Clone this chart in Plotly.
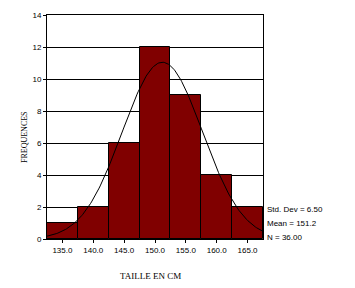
import numpy as np
import plotly.graph_objects as go

bin_centers = [135, 140, 145, 150, 155, 160, 165]
counts = [1, 2, 6, 12, 9, 4, 2]
bin_width = 5
std_dev = 6.50
mean = 151.2
n_total = 36.00
x_ticks = [135, 140, 145, 150, 155, 160, 165]
x_tick_labels = ["135.0", "140.0", "145.0", "150.0", "155.0", "160.0", "165.0"]
y_ticks = [0, 2, 4, 6, 8, 10, 12, 14]

xs = np.linspace(132.5, 167.5, 200)
ys = n_total * bin_width / (std_dev * np.sqrt(2 * np.pi)) * np.exp(-0.5 * ((xs - mean) / std_dev) ** 2)

fig = go.Figure()
fig.add_trace(go.Bar(x=bin_centers, y=counts, width=bin_width,
                     marker=dict(color="#800000", line=dict(color="black", width=1)),
                     hoverinfo="skip"))
fig.add_trace(go.Scatter(x=xs, y=ys, mode="lines", line=dict(color="black", width=1),
                         hoverinfo="skip"))

sans = "Liberation Sans, Arial, sans-serif"
serif = "Liberation Serif, Times New Roman, serif"

L, R, T, B = 47, 92, 15, 49
pw = 355 - L - R
ph = 288 - T - B


def px(x):
    return (x - L) / pw


def py(y):
    return 1 - (y - T) / ph


fig.update_layout(
    width=355, height=288,
    margin=dict(l=L, r=R, t=T, b=B),
    paper_bgcolor="white", plot_bgcolor="white",
    showlegend=False, bargap=0,
    font=dict(family=sans, size=8, color="black"),
    xaxis=dict(range=[132.5, 167.5], tickvals=x_ticks, ticktext=x_tick_labels,
               showgrid=False, zeroline=False, showline=True, linecolor="black",
               linewidth=1, mirror=True, ticks="outside", ticklen=3,
               tickcolor="black", tickfont=dict(family=sans, size=8)),
    yaxis=dict(range=[0, 14], tickvals=y_ticks, showgrid=True, gridcolor="black",
               gridwidth=1, zeroline=False, showline=True, linecolor="black",
               linewidth=1, mirror=True, ticks="outside", ticklen=3,
               tickcolor="black", tickfont=dict(family=sans, size=8)),
    annotations=[
        dict(text="FREQUENCES", x=px(24), y=py(137), xref="paper", yref="paper",
             xanchor="center", yanchor="middle",
             showarrow=False, textangle=-90, font=dict(family=serif, size=8)),
        dict(text="TAILLE EN CM", x=px(150), y=py(276), xref="paper", yref="paper",
             xanchor="center", yanchor="middle", showarrow=False,
             font=dict(family=serif, size=9)),
        dict(text="Std. Dev = 6.50", x=px(265), y=py(209), xref="paper", yref="paper",
             showarrow=False, xanchor="left", yanchor="middle",
             font=dict(family=sans, size=8)),
        dict(text="Mean = 151.2", x=px(265), y=py(223), xref="paper", yref="paper",
             showarrow=False, xanchor="left", yanchor="middle",
             font=dict(family=sans, size=8)),
        dict(text="N = 36.00", x=px(265), y=py(237), xref="paper", yref="paper",
             showarrow=False, xanchor="left", yanchor="middle",
             font=dict(family=sans, size=8)),
    ],
)

fig.write_html("out.html")
